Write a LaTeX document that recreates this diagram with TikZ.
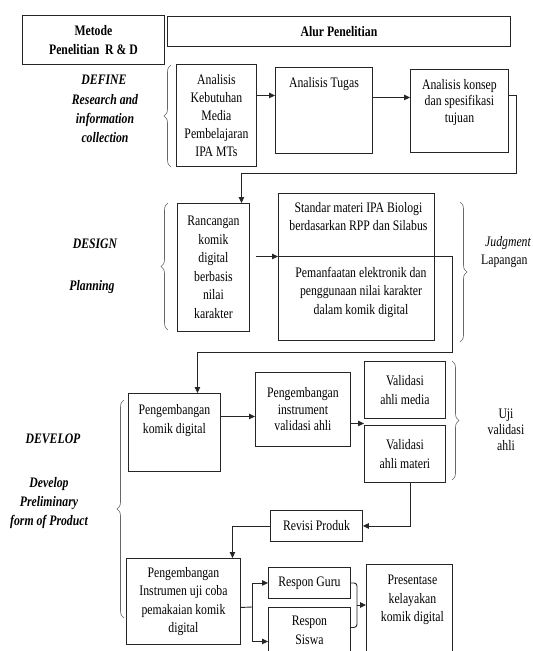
\documentclass[tikz,border=0pt]{standalone}
\usepackage{fontspec}
\setmainfont{Liberation Serif}[FakeStretch=0.81]
\usetikzlibrary{arrows.meta,decorations.pathreplacing}
\newcommand{\dtxt}{\fontsize{14.5}{18.5}\selectfont}
\begin{document}
\begin{tikzpicture}[x=1pt,y=-1pt,
 box/.style={draw=black!85, line width=0.9pt, inner sep=0pt, align=center, anchor=north west, font=\dtxt},
 txt/.style={align=center, inner sep=0pt, font=\dtxt},
 lbl/.style={align=center, inner sep=0pt, font=\fontsize{14.5}{19}\selectfont\bfseries\itshape},
 conn/.style={draw=black!85, line width=0.9pt},
 arr/.style={conn, -{Triangle[length=6pt,width=5.5pt]}},
 brc/.style={draw=black!60, line width=0.6pt, decorate, decoration={brace, amplitude=7pt}},
]
\useasboundingbox (0,0) rectangle (533,651);
\fill[white] (0,0) rectangle (533,651);

% header
\node[box, minimum width=142pt, minimum height=49pt, font=\dtxt\bfseries] (metode) at (22,15) {Metode\\Penelitian~ R \& D};
\node[box, minimum width=343pt, minimum height=30pt, font=\dtxt\bfseries] (alur) at (167,16) {Alur Penelitian};

% DEFINE
\node[lbl] (define) at (104,80) {DEFINE};
\node[lbl] (ric) at (105,119) {Research and\\information\\collection};
\draw[brc] (171,167) -- (171,65);
\node[box, minimum width=80pt, minimum height=102pt, font=\fontsize{14.5}{18}\selectfont] (kebut) at (176,64) {Analisis\\Kebutuhan\\Media\\Pembelajaran\\IPA MTs};
\node[box, minimum width=97pt, minimum height=86pt] (tugas) at (275,67) {};
\node[txt, anchor=north] (tugast) at ([yshift=-10pt]tugas.north) {Analisis Tugas};
\node[box, minimum width=98pt, minimum height=83pt] (konsep) at (410,69) {};
\node[txt, anchor=north, font=\fontsize{14.5}{16.5}\selectfont] (konsept) at ([yshift=-10pt]konsep.north) {Analisis konsep\\dan spesifikasi\\tujuan};
\coordinate (k1) at ([yshift=20pt]kebut.east);
\draw[arr] (k1) -- (k1 -| tugas.west);
\coordinate (t1) at ([yshift=13pt]tugas.east);
\draw[arr] (t1) -- (t1 -| konsep.west);

% DESIGN
\node[lbl] (design) at (95,244) {DESIGN};
\node[lbl] (planning) at (92,287) {Planning};
\draw[brc] (168,330) -- (168,203);
\node[box, minimum width=72pt, minimum height=128pt] (ranc) at (177,203) {Rancangan\\komik\\digital\\berbasis\\nilai\\karakter};
\node[box, minimum width=156pt, minimum height=147pt] (standar) at (278,193) {};
\node[txt, anchor=north] (standart) at ([yshift=-9pt,xshift=2pt]standar.north) {Standar materi IPA Biologi\\berdasarkan RPP dan Silabus};
\node[txt] (pemt) at (361,292) {Pemanfaatan elektronik dan\\penggunaan nilai karakter\\dalam komik digital};
\draw[brc] (460,202) -- (460,342);
\node[txt, anchor=west, font=\dtxt\itshape] (judg) at (485,243) {Judgment};
\node[txt, anchor=west] (lap) at (481,261) {Lapangan};

\coordinate (c1) at ([yshift=15.5pt]konsep.east);
\coordinate (c2) at (516,173);
\coordinate (rin) at ([xshift=28pt]ranc.north);
\draw[arr] (c1) -| (c2) -| (rin);
\coordinate (r1) at ([yshift=11pt]ranc.east);
\draw[arr] ([xshift=6pt]r1) -- (r1 -| standar.west);

% DEVELOP
\node[lbl] (develop) at (53,439) {DEVELOP};
\node[lbl] (dpf) at (49,503) {Develop\\Preliminary\\form of Product};
\draw[brc] (124,618) -- (124,400);
\node[box, minimum width=92pt, minimum height=78pt] (komik) at (128,393) {};
\node[txt, anchor=north, font=\fontsize{14.5}{19.5}\selectfont] (komikt) at ([yshift=-11pt]komik.north) {Pengembangan\\komik digital};
\node[box, minimum width=95pt, minimum height=74pt, font=\fontsize{14.5}{16.5}\selectfont] (instr) at (255,372) {Pengembangan\\instrument\\validasi ahli};
\node[box, minimum width=81pt, minimum height=57pt] (vmedia) at (364,361) {Validasi\\ahli media};
\node[box, minimum width=81pt, minimum height=57pt] (vmateri) at (364,425) {Validasi\\ahli materi};
\draw[brc] (452,361) -- (452,480);
\node[txt, font=\fontsize{14.5}{16}\selectfont] (uji) at (506,430) {Uji\\validasi\\ahli};

\coordinate (dl) at ([yshift=10.5pt]standar.west);
\coordinate (dr) at (452,352);
\coordinate (kin) at ([xshift=23pt]komik.north);
\draw[arr] (dl) -| (dr) -| (kin);
\coordinate (km) at ([yshift=16pt]komik.east);
\draw[arr] (km) -- (km -| instr.west);
\coordinate (i1) at ([yshift=-14pt]instr.east);
\draw[arr] (i1) -- (i1 -| vmateri.west);

\node[box, minimum width=92pt, minimum height=31pt] (revisi) at (270,510) {Revisi Produk};
\coordinate (m1) at ([xshift=5.5pt]vmateri.south);
\draw[arr] (m1) |- (revisi.east);
\node[box, minimum width=114pt, minimum height=86pt] (instrumen) at (126,558) {Pengembangan\\Instrumen uji coba\\pemakaian komik\\digital};
\coordinate (iin) at ([xshift=49pt]instrumen.north);
\draw[arr] (revisi.west) -| (iin);

\node[box, minimum width=82pt, minimum height=31pt] (guru) at (268,567) {Respon Guru};
\node[box, minimum width=82pt, minimum height=52pt] (siswa) at (268,607) {};
\node[txt, anchor=north] (siswat) at ([yshift=-9pt]siswa.north) {Respon\\Siswa};
\node[box, minimum width=86pt, minimum height=95pt] (pres) at (366,564) {};
\node[txt, anchor=north] (prest) at ([yshift=-11pt,xshift=3pt]pres.north) {Presentase\\kelayakan\\komik digital};

\coordinate (sp) at (252,607);
\draw[conn] ([yshift=-6pt]instrumen.east) -- (sp);
\draw[arr] (sp) |- (guru.west);
\coordinate (sw) at ([yshift=-8pt]siswa.west);
\draw[arr] (sp) |- (sw);
\coordinate (pj) at (357,605);
\draw[conn, rounded corners=3pt] (guru.east) -| (pj);
\coordinate (se) at ([yshift=6pt]siswa.east);
\draw[conn, rounded corners=3pt] (se) -| (pj);
\draw[arr] (pj) -- (pj -| pres.west);
\end{tikzpicture}
\end{document}
